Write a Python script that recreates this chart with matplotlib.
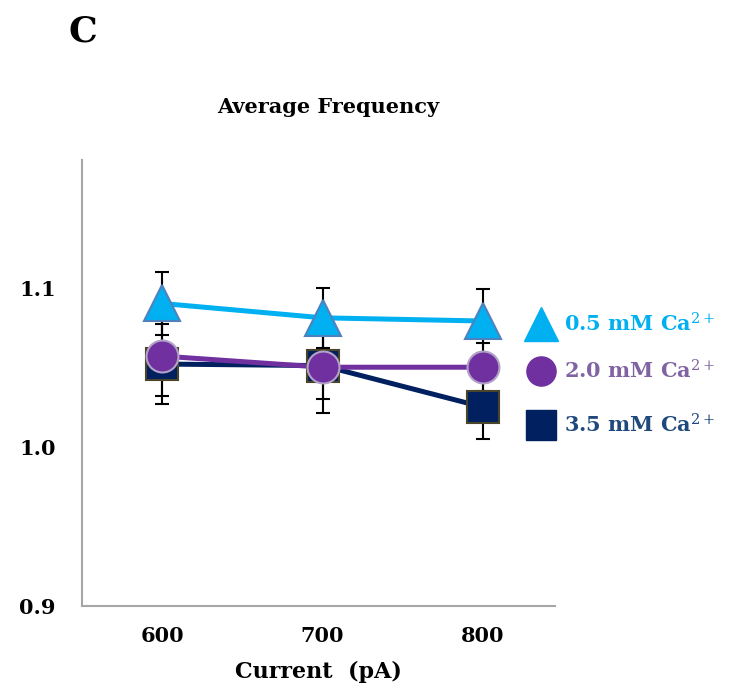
import matplotlib.pyplot as plt

plt.rcParams['font.family'] = ['DejaVu Serif']
plt.rcParams['mathtext.fontset'] = 'dejavuserif'

courants = ["600", "700", "800"]

# valeurs
moy_05 = [1.090, 1.081, 1.079]
err_05 = [0.020, 0.019, 0.020]
moy_20 = [1.057, 1.050, 1.050]
err_20 = [0.025, 0.020, 0.015]
moy_35 = [1.052, 1.051, 1.025]
err_35 = [0.025, 0.030, 0.020]

series = [
    # (moyennes, erreurs, marqueur, couleur, bord, couleur texte, libelle)
    (moy_35, err_35, "s", "#002060", "#4A452A", "#1F497D", "3.5 mM Ca$^{2+}$"),
    (moy_20, err_20, "o", "#7030A0", "#B3A2C7", "#8064A2", "2.0 mM Ca$^{2+}$"),
    (moy_05, err_05, "^", "#00B0F0", "#4F81BD", "#00B0F0", "0.5 mM Ca$^{2+}$"),
]

fig = plt.figure(figsize=(7.4, 6.96), dpi=100)
ax = fig.add_axes([0.111, 0.129, 0.639, 0.641])

x = list(range(len(courants)))
for moy, err, m, c, bord, ctexte, lab in series:
    ax.plot(x, moy, color=c, lw=3.6, zorder=2, solid_capstyle="butt")
    ax.errorbar(x, moy, yerr=err, fmt="none", ecolor="black", elinewidth=1.5,
                capsize=5, capthick=1.5, zorder=3)
    ax.plot(x, moy, linestyle="none", marker=m, ms=23 if m != "^" else 26,
            markerfacecolor=c, markeredgecolor=bord, markeredgewidth=1.5, zorder=4)

# legende a droite
legende_y = [1.0772, 1.0475, 1.0139]
for (moy, err, m, c, bord, ctexte, lab), yl in zip(series[::-1], legende_y):
    ax.plot([2.36], [yl], linestyle="none", marker=m, ms=21 if m != "^" else 25,
            markerfacecolor=c, markeredgecolor=c, clip_on=False, zorder=5)
    ax.text(2.505, yl, lab, color=ctexte, fontsize=15, va="center", ha="left",
            fontweight="bold", clip_on=False)

ax.set_xlim(-0.5, 2.45)
ax.set_ylim(0.9, 1.18)
ax.set_yticks([0.9, 1.0, 1.1])
ax.set_yticklabels(["0.9", "1.0", "1.1"])
ax.set_xticks(x)
ax.set_xticklabels(courants)
ax.tick_params(axis="both", length=0, labelsize=15, pad=14)
ax.tick_params(axis="y", pad=19)
for lbl in ax.get_xticklabels() + ax.get_yticklabels():
    lbl.set_fontweight("bold")

for s in ["top", "right"]:
    ax.spines[s].set_visible(False)
for s in ["left", "bottom"]:
    ax.spines[s].set_color("#A6A6A6")
    ax.spines[s].set_linewidth(1.5)

ax.set_xlabel("Current  (pA)", fontsize=16, fontweight="bold", labelpad=11)

fig.text(0.443, 0.846, "Average Frequency", fontsize=15, fontweight="bold",
         ha="center", va="center")
fig.text(0.092, 0.955, "C", fontsize=26, fontweight="bold", ha="left", va="center")

fig.savefig("out.png", dpi=100)
